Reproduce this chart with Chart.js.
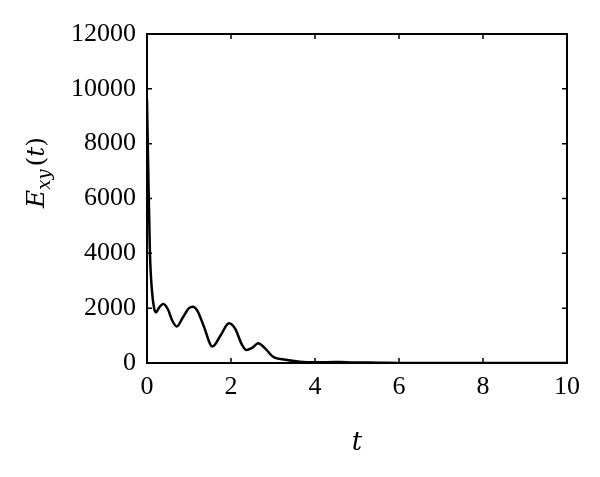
<!DOCTYPE html>
<html>
<head>
<meta charset="utf-8">
<script src="https://cdn.jsdelivr.net/npm/chart.js@4/dist/chart.umd.min.js"></script>
<style>
  html, body { margin: 0; padding: 0; background: #fff; }
  #wrap { width: 600px; height: 477px; position: relative; }
</style>
</head>
<body>
<div id="wrap"><canvas id="c"></canvas></div>
<script>
// values
const tValues = [0, 0.03, 0.07, 0.12, 0.17, 0.21, 0.3, 0.39, 0.5, 0.6, 0.71, 0.85, 1.0, 1.1, 1.2, 1.35, 1.56, 1.75, 1.95, 2.1, 2.25, 2.37, 2.5, 2.65, 2.8, 3.0, 3.3, 3.64, 4.0, 4.3, 4.6, 4.9, 5.3, 5.7, 6.0, 7, 8, 9, 10];
const exyValues = [9600, 7000, 4000, 2600, 2000, 1850, 2050, 2150, 1950, 1550, 1330, 1650, 2000, 2050, 1900, 1350, 600, 1000, 1450, 1250, 700, 470, 550, 720, 550, 230, 120, 50, 30, 30, 40, 20, 20, 5, 0, 0, 0, 0, 0];
const xTicks = [0, 2, 4, 6, 8, 10];
const yTicks = [0, 2000, 4000, 6000, 8000, 10000, 12000];

const SERIF = '"Liberation Serif", "DejaVu Serif", serif';
const TITLE_SERIF = '"DejaVu Serif", "Liberation Serif", serif';

// frame, inward ticks on all four sides, and the axis titles
const framePlugin = {
  id: 'frame',
  afterDraw(chart) {
    const ctx = chart.ctx;
    const a = chart.chartArea;
    const xs = chart.scales.x, ys = chart.scales.y;
    const tick = 5;
    ctx.save();
    ctx.strokeStyle = '#000';
    ctx.lineWidth = 2;
    ctx.strokeRect(a.left, a.top, a.right - a.left, a.bottom - a.top);
    ctx.lineWidth = 1.5;
    ctx.beginPath();
    for (const v of xTicks) {
      const px = xs.getPixelForValue(v);
      ctx.moveTo(px, a.bottom); ctx.lineTo(px, a.bottom - tick);
      ctx.moveTo(px, a.top); ctx.lineTo(px, a.top + tick);
    }
    for (const v of yTicks) {
      const py = ys.getPixelForValue(v);
      ctx.moveTo(a.left, py); ctx.lineTo(a.left + tick, py);
      ctx.moveTo(a.right, py); ctx.lineTo(a.right - tick, py);
    }
    ctx.stroke();

    // x title: italic t
    ctx.fillStyle = '#000';
    ctx.font = 'italic 26px ' + TITLE_SERIF;
    ctx.textAlign = 'center';
    ctx.textBaseline = 'alphabetic';
    ctx.fillText('t', (a.left + a.right) / 2, 450);

    // y title: E_xy(t), rotated
    ctx.translate(44, 208);
    ctx.rotate(-Math.PI / 2);
    ctx.textAlign = 'left';
    const parts = [
      { s: 'E', f: 'italic 25px ' + TITLE_SERIF, dy: 0 },
      { s: 'xy', f: 'italic 18px ' + TITLE_SERIF, dy: 6 },
      { s: '(', f: '25px ' + TITLE_SERIF, dy: 0 },
      { s: 't', f: 'italic 25px ' + TITLE_SERIF, dy: 0 },
      { s: ')', f: '25px ' + TITLE_SERIF, dy: 0 },
    ];
    let x = 0;
    for (const p of parts) {
      ctx.font = p.f;
      ctx.fillText(p.s, x, p.dy);
      x += ctx.measureText(p.s).width + (p.s === 'xy' ? 3 : 0);
    }
    ctx.restore();
  }
};

new Chart(document.getElementById('c'), {
  type: 'line',
  data: {
    labels: tValues,
    datasets: [{
      data: tValues.map((t, i) => ({ x: t, y: exyValues[i] })),
      borderColor: '#000',
      borderWidth: 2.5,
      pointRadius: 0,
      fill: false,
      cubicInterpolationMode: 'monotone',
    }]
  },
  plugins: [framePlugin],
  options: {
    responsive: true,
    maintainAspectRatio: false,
    animation: false,
    layout: { padding: { top: 34, right: 33, left: 0, bottom: 0 } },
    scales: {
      x: {
        type: 'linear',
        min: 0, max: 10,
        afterBuildTicks: s => { s.ticks = xTicks.map(v => ({ value: v })); },
        afterFit: s => { s.height = 114; },
        ticks: { color: '#000', font: { size: 26, family: SERIF }, padding: 9, maxRotation: 0, callback: v => String(v) },
        grid: { display: false, drawTicks: false },
        border: { display: false },
      },
      y: {
        min: 0, max: 12000,
        afterBuildTicks: s => { s.ticks = yTicks.map(v => ({ value: v })); },
        afterFit: s => { s.width = 147; },
        ticks: { color: '#000', font: { size: 26, family: SERIF }, padding: 11, callback: v => String(v) },
        grid: { display: false, drawTicks: false },
        border: { display: false },
      }
    },
    plugins: { legend: { display: false }, tooltip: { enabled: false } }
  }
});
</script>
</body>
</html>
